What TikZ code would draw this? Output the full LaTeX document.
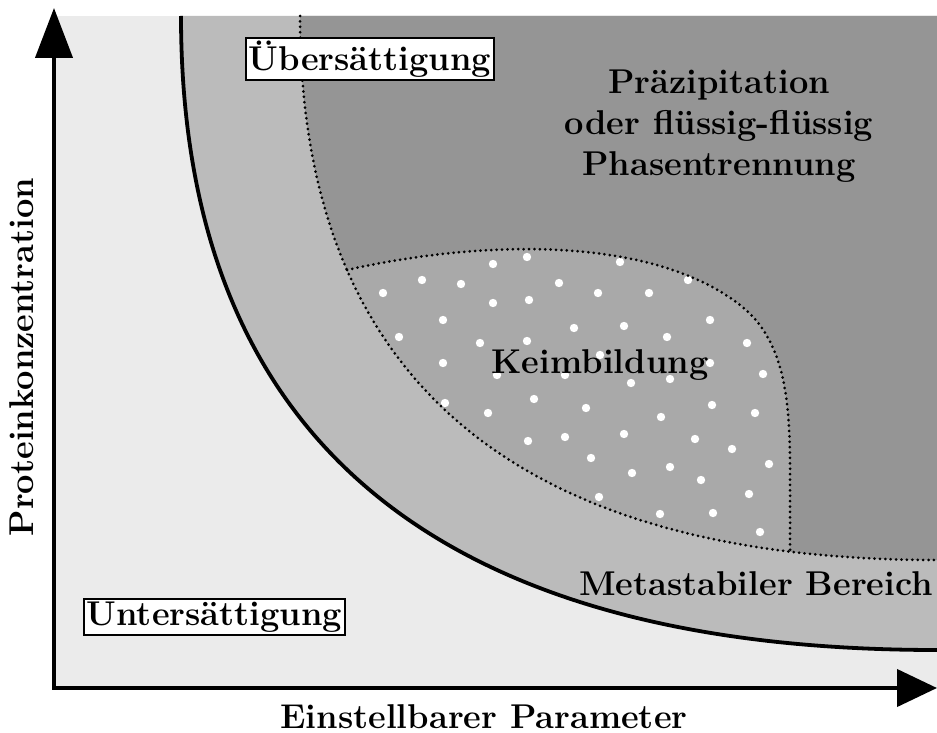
\documentclass[tikz,border=0pt]{standalone}
\usepackage{fontspec}
\usetikzlibrary{arrows.meta}
\definecolor{lightg}{HTML}{EBEBEB}
\definecolor{metag}{HTML}{BBBBBB}
\definecolor{darkg}{HTML}{959595}
\definecolor{nucg}{HTML}{A9A9A9}
\begin{document}
\begin{tikzpicture}[x=0.5pt,y=-0.5pt,
  lbl/.style={font=\fontsize{17.2}{20.5}\selectfont\bfseries, inner sep=0pt},
  boxlbl/.style={lbl, draw, fill=white, line width=0.9pt, inner sep=1.5pt},
  dotline/.style={line width=1.5pt, line cap=round, dash pattern=on 0pt off 2.7pt},
  soluline/.style={line width=1.9pt},
  axis/.style={line width=2.1pt, line join=miter,
    {Triangle[length=25pt,width=18.5pt]}-{Triangle[length=20pt,width=18.5pt]}},
  nucdot/.style={fill=white}]
\useasboundingbox (0,0) rectangle (937,733);
% coordinates
\coordinate (O) at (54,688);
\coordinate (Ytip) at (54,8);
\coordinate (Xtip) at (937,688);
% background regions
\fill[lightg] (54,16) rectangle (937,688);
\fill[metag] (181,16) .. controls (181,437) and (435,650) .. (937,650) -- (937,16) -- cycle;
\fill[darkg] (300,16) .. controls (300,377) and (514,560) .. (937,560) -- (937,16) -- cycle;
% nucleation region
\begin{scope}
  \clip (300,16) .. controls (300,377) and (514,560) .. (937,560) -- (937,16) -- cycle;
  \fill[nucg] (300,280) -- (347,270) .. controls (480,240) and (650,235) .. (740,305)
     .. controls (785,340) and (790,400) .. (790,470) -- (790,700) -- (300,700) -- cycle;
\end{scope}
% dots
\foreach \p in {(527,257),(493,264),(620,262),(422,280),(461,284),(559,283),(688,280),
  (383,293),(598,293),(649,293),(493,303),(529,300),(443,320),(710,320),(574,328),
  (624,326),(399,337),(480,343),(527,341),(667,337),(747,343),(443,363),(497,375),
  (565,375),(600,355),(710,363),(763,374),(631,383),(670,379),(445,403),(534,399),
  (586,408),(712,405),(488,413),(661,417),(755,413),(624,434),(528,441),(565,437),
  (695,439),(732,449),(591,458),(769,464),(632,473),(670,467),(701,480),(749,494),
  (599,497),(660,514),(713,513),(760,532)}
  \fill[nucdot] \p circle (4.2);
% boundaries
\draw[dotline] (300,16) .. controls (300,377) and (514,560) .. (937,560);
\draw[dotline] (347,270) .. controls (480,240) and (650,235) .. (740,305)
     .. controls (785,340) and (790,400) .. (790,470) -- (790,552);
\draw[soluline] (181,16) .. controls (181,437) and (435,650) .. (937,650);
% axes
\draw[axis] (Ytip) -- (O) -- (Xtip);
% labels
\node[boxlbl] (ueber) at (370,59) {Übersättigung};
\node[boxlbl] (unter) at (214.5,617) {Untersättigung};
\node[lbl, align=center] (prec) at (719,126) {Präzipitation\\oder flüssig-flüssig\\Phasentrennung};
\node[lbl, anchor=base] (keim) at (600,373) {Keimbildung};
\node[lbl, anchor=base] (meta) at (756,595) {Metastabiler Bereich};
\node[lbl, anchor=base] (xlab) at (484,728) {Einstellbarer Parameter};
\node[lbl, anchor=base, rotate=90] (ylab) at (33,357) {Proteinkonzentration};
\end{tikzpicture}
\end{document}
